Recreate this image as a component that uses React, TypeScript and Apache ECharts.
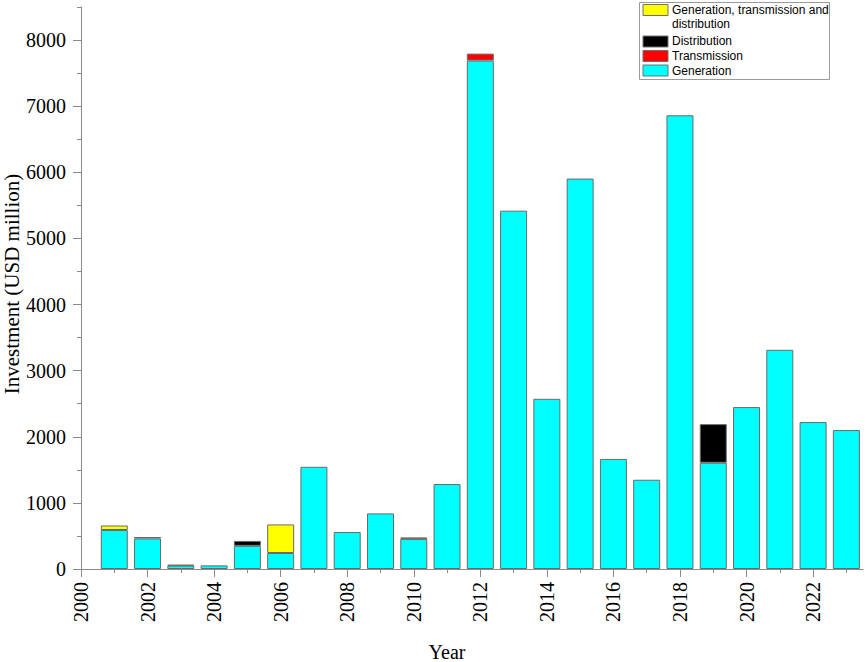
import React, { useEffect, useRef } from "react";
import * as echarts from "echarts";

const years = ["2000", "2001", "2002", "2003", "2004", "2005", "2006", "2007", "2008", "2009", "2010", "2011", "2012", "2013", "2014", "2015", "2016", "2017", "2018", "2019", "2020", "2021", "2022", "2023"];
const generation = [null, 590, 462, 50, 55, 350, 242, 1546, 560, 841, 455, 1285, 7690, 5420, 2574, 5905, 1665, 1350, 6862, 1607, 2449, 3315, 2222, 2101];
const transmission = [null, null, null, null, null, null, null, null, null, null, null, null, 105, null, null, null, null, null, null, null, null, null, null, null];
const distribution = [null, null, null, null, null, 75, null, null, null, null, null, null, null, null, null, null, null, null, null, 584, null, null, null, null];
const genTransDist = [null, 68, 22, 14, null, null, 432, null, null, null, 23, null, null, null, null, null, null, null, null, null, null, null, null, null];

const xMajorTicks = [2000, 2002, 2004, 2006, 2008, 2010, 2012, 2014, 2016, 2018, 2020, 2022];
const xMinorTicks = [2001, 2003, 2005, 2007, 2009, 2011, 2013, 2015, 2017, 2019, 2021, 2023];
const yMajorTicks = [0, 1000, 2000, 3000, 4000, 5000, 6000, 7000, 8000];
const yMinorTicks = [500, 1500, 2500, 3500, 4500, 5500, 6500, 7500, 8500];

const legendItems = [
  { name: "Generation, transmission and\ndistribution", color: "#ffff00" },
  { name: "Distribution", color: "#000000" },
  { name: "Transmission", color: "#ff0000" },
  { name: "Generation", color: "#00ffff" },
];

const AXIS_COLOR = "#8a8a8a";
const SERIF = "'Liberation Serif', 'Times New Roman', serif";
const SANS = "'Liberation Sans', Arial, sans-serif";

const X_MIN = 2000;
const X_MAX = 2023.5;
const GRID_LEFT = 81;
const GRID_RIGHT = 2;
const GRID_TOP = 7;
const GRID_BOTTOM = 93;
const W = 865;

export default function App() {
  const ref = useRef<HTMLDivElement>(null);
  useEffect(() => {
    if (!ref.current) return;
    const chart = echarts.init(ref.current, undefined, { renderer: "svg" });
    const yearWidth = (W - GRID_LEFT - GRID_RIGHT) / (X_MAX - X_MIN);
    const barLeft = GRID_LEFT - yearWidth / 2;

    const mkSeries = (name: string, vals: (number | null)[], color: string) => ({
      name,
      type: "bar",
      stack: "total",
      barWidth: 27,
      xAxisIndex: 2,
      yAxisIndex: 2,
      data: vals.map((v) => (v == null ? "-" : v)),
      itemStyle: { color, borderColor: "#6a6a6a", borderWidth: 1 },
      emphasis: { disabled: true },
    });

    const swatchY = [4.5, 36, 50.5, 65];
    const textY = [[10, 24], [41], [55.5], [70.5]];
    const legendGraphics: any[] = [
      {
        type: "rect",
        shape: { x: 639.5, y: 2.5, width: 190, height: 77 },
        style: { fill: "#fff", stroke: "#9a9a9a", lineWidth: 1 },
        z: 10,
      },
    ];
    legendItems.forEach((it, i) => {
      legendGraphics.push({
        type: "rect",
        shape: { x: 643, y: swatchY[i], width: 25, height: 11 },
        style: { fill: it.color, stroke: "#707070", lineWidth: 1 },
        z: 11,
      });
      it.name.split("\n").forEach((ln, j) => {
        legendGraphics.push({
          type: "text",
          x: 672,
          y: textY[i][j],
          style: {
            text: ln,
            fill: "#000",
            font: `12px ${SANS}`,
            textAlign: "left",
            textVerticalAlign: "middle",
          },
          z: 11,
        });
      });
    });

    chart.setOption({
      animation: false,
      backgroundColor: "#ffffff",
      grid: [
        { left: GRID_LEFT, right: GRID_RIGHT, top: GRID_TOP, bottom: GRID_BOTTOM, containLabel: false, outerBoundsMode: "none" },
        { left: barLeft, right: GRID_RIGHT, top: GRID_TOP, bottom: GRID_BOTTOM, containLabel: false, outerBoundsMode: "none" },
      ],
      xAxis: [
        {
          type: "value",
          gridIndex: 0,
          min: X_MIN,
          max: X_MAX,
          position: "bottom",
          axisLine: { show: true, onZero: false, lineStyle: { color: AXIS_COLOR, width: 1 } },
          axisTick: { show: true, length: 8, customValues: xMajorTicks, lineStyle: { color: AXIS_COLOR } },
          axisLabel: {
            show: true,
            customValues: xMajorTicks,
            rotate: 90,
            margin: 13,
            fontSize: 20,
            fontFamily: SERIF,
            color: "#000",
            formatter: (v: number) => String(v),
          },
          splitLine: { show: false },
        },
        {
          type: "value",
          gridIndex: 0,
          min: X_MIN,
          max: X_MAX,
          position: "bottom",
          axisLine: { show: false, onZero: false },
          axisTick: { show: true, length: 4, customValues: xMinorTicks, lineStyle: { color: AXIS_COLOR } },
          axisLabel: { show: false },
          splitLine: { show: false },
        },
        {
          type: "category",
          gridIndex: 1,
          data: years,
          boundaryGap: true,
          show: false,
        },
      ],
      yAxis: [
        {
          type: "value",
          gridIndex: 0,
          min: 0,
          max: 8500,
          position: "left",
          axisLine: { show: true, onZero: false, lineStyle: { color: AXIS_COLOR, width: 1 } },
          axisTick: { show: true, length: 8, customValues: yMajorTicks, lineStyle: { color: AXIS_COLOR } },
          axisLabel: {
            show: true,
            customValues: yMajorTicks,
            margin: 15,
            fontSize: 20,
            fontFamily: SERIF,
            color: "#000",
            formatter: (v: number) => String(v),
          },
          splitLine: { show: false },
        },
        {
          type: "value",
          gridIndex: 0,
          min: 0,
          max: 8500,
          position: "left",
          axisLine: { show: false, onZero: false },
          axisTick: { show: true, length: 4, customValues: yMinorTicks, lineStyle: { color: AXIS_COLOR } },
          axisLabel: { show: false },
          splitLine: { show: false },
        },
        {
          type: "value",
          gridIndex: 1,
          min: 0,
          max: 8500,
          show: false,
          splitLine: { show: false },
        },
      ],
      series: [
        mkSeries("Generation", generation, "#00ffff"),
        mkSeries("Transmission", transmission, "#ff0000"),
        mkSeries("Distribution", distribution, "#000000"),
        mkSeries("Generation, transmission and distribution", genTransDist, "#ffff00"),
      ],
      graphic: [
        {
          type: "text",
          x: 12,
          y: 284,
          rotation: Math.PI / 2,
          style: {
            text: "Investment (USD million)",
            fill: "#000",
            font: `21px ${SERIF}`,
            textAlign: "center",
            textVerticalAlign: "middle",
          },
        },
        {
          type: "text",
          x: 447,
          y: 652,
          style: {
            text: "Year",
            fill: "#000",
            font: `20px ${SERIF}`,
            textAlign: "center",
            textVerticalAlign: "middle",
          },
        },
        ...legendGraphics,
      ],
    });
    return () => chart.dispose();
  }, []);
  return (
    <div
      ref={ref}
      style={{ position: "fixed", left: 0, top: 0, width: 865, height: 662, background: "#fff" }}
    />
  );
}
